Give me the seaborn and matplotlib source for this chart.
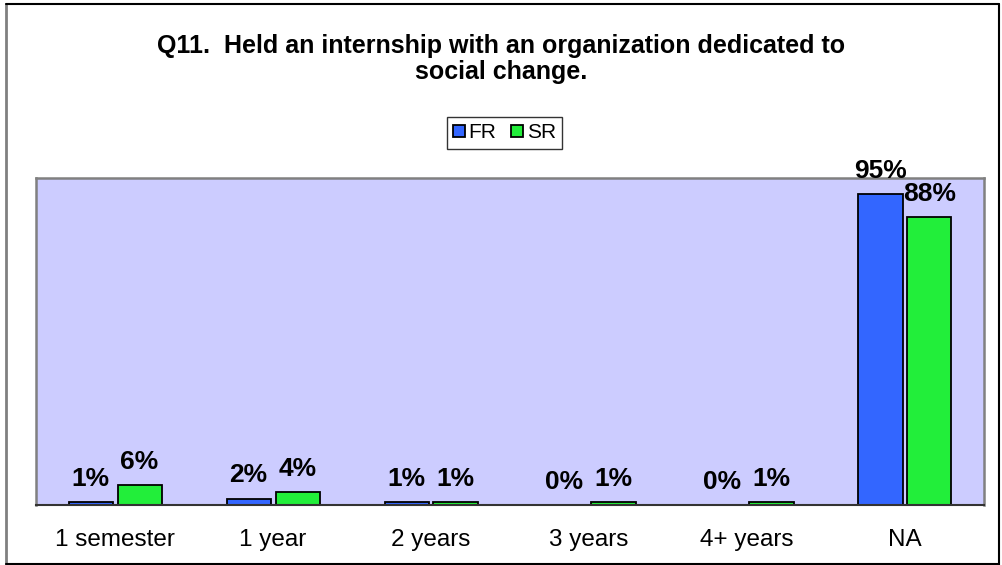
import pandas as pd
import matplotlib.pyplot as plt
import seaborn as sns
from matplotlib.lines import Line2D

categories = ["1 semester", "1 year", "2 years", "3 years", "4+ years", "NA"]
fr_values = [1, 2, 1, 0, 0, 95]
sr_values = [6, 4, 1, 1, 1, 88]
groups = ["FR", "SR"]

df = pd.DataFrame({
    "category": categories * 2,
    "value": fr_values + sr_values,
    "group": ["FR"] * len(categories) + ["SR"] * len(categories),
})

sns.set_theme(style="white")
plt.rcParams["font.family"] = ["Liberation Sans", "DejaVu Sans"]
plt.rcParams["text.color"] = "black"

palette = {"FR": "#3366FF", "SR": "#22EE3A"}

fig = plt.figure(figsize=(10.03, 5.65), dpi=100)
ax = fig.add_axes([0.036, 0.106, 0.945, 0.579])

sns.barplot(data=df, x="category", y="value", hue="group", hue_order=groups,
            palette=palette, width=0.62, gap=0.1, edgecolor="black",
            linewidth=1.3, saturation=1, legend=True, ax=ax)

ax.set_facecolor("#CCCCFF")
ax.set_ylim(0, 100)
ax.set_xlim(-0.5, len(categories) - 0.5)
ax.set_yticks([])
ax.set_xlabel("")
ax.set_ylabel("")
ax.tick_params(axis="x", length=0, pad=17, labelsize=17.5, colors="black")
for side in ["top", "left", "right"]:
    ax.spines[side].set_color("#808080")
    ax.spines[side].set_linewidth(1.8)
ax.spines["bottom"].set_color("#333333")
ax.spines["bottom"].set_linewidth(1.5)

for cont in ax.containers:
    ax.bar_label(cont, fmt="%d%%", padding=8, fontsize=19, fontweight="bold",
                 color="black", clip_on=False)

handles, labels = ax.get_legend_handles_labels()
ax.get_legend().remove()
leg = fig.legend(handles, labels, loc="center", bbox_to_anchor=(0.503, 1 - 133 / 565),
                 ncol=2, frameon=True, fancybox=False, fontsize=15,
                 handlelength=0.55, handleheight=0.55, handletextpad=0.2,
                 columnspacing=0.7, borderpad=0.3, labelcolor="black")
leg.get_frame().set_edgecolor("black")
leg.get_frame().set_linewidth(1.0)

fig.text(0.5, 1 - 46 / 565, "Q11.  Held an internship with an organization dedicated to",
         ha="center", va="center", fontsize=18, fontweight="bold", color="black")
fig.text(0.5, 1 - 72 / 565, "social change.",
         ha="center", va="center", fontsize=18, fontweight="bold", color="black")

# outer chart border
fig.add_artist(Line2D([0.006, 0.006], [0.0, 0.993], color="#808080", lw=2, transform=fig.transFigure))
fig.add_artist(Line2D([0.006, 0.996], [0.993, 0.993], color="black", lw=1.5, transform=fig.transFigure))
fig.add_artist(Line2D([0.996, 0.996], [0.0, 0.993], color="black", lw=1.5, transform=fig.transFigure))
fig.add_artist(Line2D([0.006, 0.996], [0.002, 0.002], color="black", lw=1.5, transform=fig.transFigure))

fig.savefig("out.png", dpi=100)
